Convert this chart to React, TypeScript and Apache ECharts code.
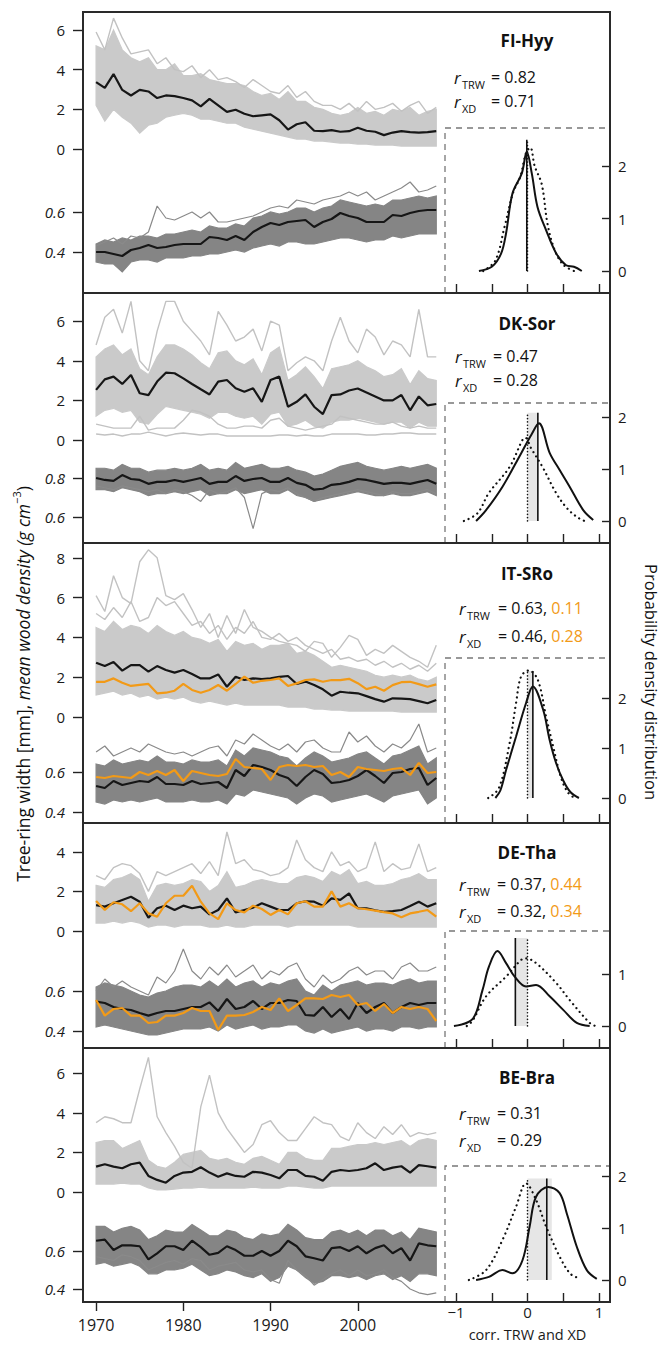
import React, { useEffect, useRef } from "react";
import * as echarts from "echarts";

// ---------------- data ----------------
const YEARS = [1970,1971,1972,1973,1974,1975,1976,1977,1978,1979,1980,1981,1982,1983,1984,1985,1986,1987,1988,1989,1990,1991,1992,1993,1994,1995,1996,1997,1998,1999,2000,2001,2002,2003,2004,2005,2006,2007,2008,2009];
const TRW_TICKS_6 = [0, 2, 4, 6];
const TRW_TICKS_8 = [0, 2, 4, 6, 8];
const TRW_TICKS_4 = [0, 2, 4];
const XD_TICKS_LOW = [0.4, 0.6];
const XD_TICKS_HIGH = [0.6, 0.8];
const YEAR_TICKS = [1970, 1980, 1990, 2000];
const CORR_TICKS = [-1, -0.5, 0, 0.5, 1];
const CORR_LABELS = [-1, 0, 1];
const PDF_TICKS = [0, 1, 2];
const PDF_TICKS_SHORT = [0, 1];

// FI-Hyy
const FI_TRW_MEAN = [3.37,3.08,3.78,2.98,2.7,2.98,2.9,2.57,2.7,2.67, 2.57,2.45,2.15,2.53,2.2,1.87,1.98,1.78,1.65,1.7, 1.75,1.45,0.98,1.25,1.35,0.92,0.9,0.95,0.87,0.9, 1.07,0.92,0.87,0.7,0.83,0.9,0.85,0.83,0.85,0.9];
const FI_TRW_LO = [2.2,1.4,2.0,1.6,1.3,0.8,1.2,1.3,1.6,1.7, 1.8,1.7,1.5,1.5,1.4,1.3,1.3,1.1,1.0,0.9, 0.8,0.7,0.6,0.5,0.5,0.4,0.4,0.35,0.3,0.3, 0.25,0.25,0.2,0.2,0.2,0.15,0.15,0.15,0.15,0.15];
const FI_TRW_HI = [5.2,5.0,6.0,5.0,4.6,4.4,4.6,4.0,4.0,4.3, 3.7,3.7,3.8,3.5,3.4,3.3,3.3,3.2,2.9,2.7, 2.8,2.5,2.9,2.4,2.4,2.1,2.0,1.8,1.7,1.8, 2.1,1.8,1.9,1.7,2.0,1.9,2.1,1.7,1.9,2.0];
const FI_TRW_OUT = [5.9,5.0,6.6,5.6,4.8,4.9,5.0,4.3,4.6,4.0, 3.9,4.2,3.6,4.0,3.5,3.6,3.4,3.1,3.5,3.2, 2.9,2.8,3.2,2.6,2.9,2.4,2.2,2.2,2.0,2.3, 1.9,2.4,2.0,2.1,2.3,1.9,2.2,2.4,1.8,2.1];
const FI_XD_MEAN = [0.40,0.40,0.39,0.38,0.41,0.42,0.435,0.42,0.425,0.435, 0.44,0.44,0.44,0.475,0.47,0.46,0.48,0.46,0.50,0.525, 0.545,0.535,0.55,0.555,0.56,0.525,0.55,0.565,0.595,0.58, 0.57,0.55,0.55,0.55,0.585,0.58,0.595,0.605,0.61,0.61];
const FI_XD_LO = [0.35,0.34,0.34,0.3,0.35,0.36,0.36,0.35,0.37,0.37, 0.37,0.38,0.38,0.39,0.39,0.4,0.41,0.4,0.42,0.43, 0.44,0.43,0.45,0.45,0.44,0.44,0.45,0.46,0.47,0.47, 0.46,0.45,0.46,0.46,0.48,0.47,0.48,0.49,0.49,0.49];
const FI_XD_HI = [0.44,0.46,0.45,0.47,0.46,0.48,0.48,0.47,0.49,0.49, 0.5,0.51,0.5,0.53,0.52,0.52,0.54,0.53,0.57,0.58, 0.6,0.59,0.6,0.62,0.62,0.6,0.62,0.63,0.66,0.65, 0.64,0.63,0.64,0.63,0.66,0.66,0.67,0.68,0.67,0.68];
const FI_XD_OUT = [0.43,0.45,0.47,0.44,0.48,0.47,0.5,0.63,0.57,0.56, 0.58,0.6,0.57,0.6,0.55,0.55,0.56,0.57,0.58,0.6, 0.62,0.63,0.62,0.66,0.65,0.64,0.66,0.67,0.68,0.7, 0.68,0.7,0.66,0.68,0.7,0.72,0.75,0.7,0.71,0.73];
const FI_PDF_SOLID = [[-0.68,0],[-0.5,0.08],[-0.37,0.33],[-0.3,0.72],[-0.21,1.48],[-0.08,1.86],[-0.01,2.27],[0.06,1.86],[0.14,1.22],[0.26,0.78],[0.4,0.34],[0.54,0.11],[0.65,0.08],[0.76,0]];
const FI_PDF_DOTTED = [[-0.62,0],[-0.45,0.2],[-0.32,0.85],[-0.2,1.5],[-0.1,1.8],[-0.02,2.25],[0.04,2.35],[0.1,2.0],[0.2,1.65],[0.28,0.9],[0.38,0.4],[0.5,0.12],[0.65,0]];

// DK-Sor
const DK_TRW_MEAN = [2.53,3.06,3.2,2.83,3.28,2.36,2.27,2.95,3.4,3.37, 3.11,2.83,2.56,2.3,2.95,3.03,2.61,2.44,2.61,1.93, 3.03,3.2,1.68,1.93,2.3,1.68,1.31,2.27,2.3,2.5, 2.6,2.4,2.2,2.0,2.0,2.27,1.5,2.2,1.75,1.82];
const DK_TRW_LO = [1.2,1.5,1.6,1.4,1.5,0.9,0.8,1.3,1.7,1.6, 1.5,1.4,1.3,1.1,1.4,1.4,1.2,1.1,1.2,0.8, 1.3,1.4,0.7,0.8,1.0,0.7,0.6,0.9,1.0,1.0, 1.1,1.0,0.9,0.8,0.9,0.9,0.6,0.9,0.7,0.7];
const DK_TRW_HI = [4.2,4.6,4.8,4.3,4.6,3.6,3.3,4.2,4.8,4.8, 4.6,4.3,3.9,3.6,4.4,4.5,4.0,3.8,4.1,3.3, 4.4,4.7,3.0,3.3,3.7,3.2,2.6,3.6,3.7,3.8, 4.0,3.7,3.5,3.2,3.3,3.6,2.8,3.5,3.1,3.0];
const DK_TRW_OUT_HIGH = [4.8,6.2,6.6,5.4,7.0,4.0,3.5,5.5,7.0,7.0, 6.0,5.5,5.0,4.3,6.5,5.8,5.0,5.2,5.6,4.5, 6.0,5.8,3.5,3.9,4.2,4.0,3.5,5.0,6.2,5.0, 4.4,5.6,5.2,4.3,5.0,4.8,4.2,6.6,4.2,4.2];
const DK_TRW_OUT_LOW = [0.3,0.25,0.3,0.2,0.3,0.3,0.4,0.3,0.2,0.3, 0.35,0.3,0.25,0.3,0.3,0.2,0.2,0.2,0.2,0.2, 0.2,0.25,0.25,0.2,0.25,0.2,0.2,0.3,0.3,0.3, 0.3,0.25,0.25,0.3,0.3,0.35,0.35,0.3,0.3,0.3];
const DK_TRW_OUT_MID = [0.8,0.7,0.6,0.6,0.6,1.2,0.5,0.6,0.6,0.6, 1.0,1.5,1.4,1.2,0.8,0.6,0.6,0.7,0.7,0.6, 1.0,1.1,0.7,0.6,0.5,0.6,0.7,0.8,1.2,1.1, 1.0,0.9,0.8,0.8,0.9,0.7,0.6,0.7,0.6,0.6];
const DK_XD_MEAN = [0.80,0.79,0.785,0.815,0.795,0.79,0.77,0.78,0.78,0.79, 0.78,0.79,0.80,0.77,0.78,0.78,0.81,0.785,0.795,0.80, 0.78,0.78,0.80,0.775,0.765,0.74,0.745,0.765,0.77,0.78, 0.795,0.79,0.78,0.77,0.775,0.775,0.77,0.78,0.79,0.77];
const DK_XD_LO = [0.74,0.74,0.73,0.75,0.74,0.73,0.71,0.72,0.72,0.73, 0.72,0.73,0.74,0.71,0.72,0.72,0.74,0.72,0.73,0.74, 0.72,0.72,0.74,0.71,0.7,0.68,0.69,0.7,0.71,0.72, 0.73,0.72,0.71,0.71,0.72,0.71,0.71,0.72,0.73,0.71];
const DK_XD_HI = [0.85,0.85,0.84,0.87,0.85,0.85,0.83,0.84,0.84,0.85, 0.84,0.85,0.87,0.84,0.85,0.84,0.88,0.85,0.86,0.87, 0.85,0.85,0.86,0.84,0.83,0.81,0.82,0.84,0.86,0.87, 0.88,0.86,0.85,0.84,0.85,0.86,0.85,0.86,0.87,0.85];
const DK_XD_OUT = [0.76,0.75,0.74,0.76,0.75,0.74,0.73,0.74,0.72,0.74, 0.73,0.71,0.68,0.74,0.72,0.73,0.75,0.7,0.54,0.72, 0.74,0.73,0.75,0.72,0.7,0.68,0.7,0.71,0.72,0.73, 0.74,0.73,0.72,0.71,0.73,0.72,0.72,0.73,0.74,0.72];
const DK_PDF_SOLID = [[-0.72,0],[-0.58,0.21],[-0.35,0.66],[-0.09,1.3],[0.05,1.65],[0.16,1.88],[0.31,1.31],[0.45,0.98],[0.59,0.66],[0.78,0.21],[0.92,0.02]];
const DK_PDF_DOTTED = [[-0.89,0],[-0.7,0.15],[-0.54,0.54],[-0.25,1.04],[-0.07,1.56],[-0.03,1.6],[0.05,1.4],[0.21,1.04],[0.4,0.54],[0.55,0.25],[0.69,0.08],[0.8,0]];

// IT-SRo
const IT_TRW_MEAN = [2.73,2.56,2.76,2.33,2.61,2.61,2.28,2.56,2.36,2.23, 2.36,2.16,1.94,1.94,2.14,1.52,2.02,1.86,1.94,1.91, 1.94,2.02,2.06,1.66,1.78,1.61,1.39,1.07,1.27,1.22, 1.19,1.05,0.9,0.77,0.94,0.92,0.9,0.8,0.69,0.85];
const IT_TRW_ORANGE = [1.77,1.77,1.94,1.72,1.56,1.61,1.66,1.19,1.22,1.32, 1.66,1.36,1.22,1.36,1.61,1.32,1.66,2.03,1.72,1.82, 1.86,1.94,1.56,1.69,1.86,1.89,1.77,1.86,1.85,1.92, 1.7,1.4,1.52,1.32,1.6,1.75,1.77,1.65,1.52,1.64];
const IT_TRW_LO = [1.1,1.2,1.3,1.1,1.2,1.0,1.1,0.9,1.0,0.9, 1.0,0.8,0.7,0.8,0.7,0.6,0.7,0.6,0.6,0.6, 0.6,0.6,0.5,0.5,0.5,0.4,0.4,0.35,0.35,0.3, 0.3,0.3,0.3,0.3,0.3,0.25,0.25,0.25,0.25,0.25];
const IT_TRW_HI = [4.5,4.3,4.8,4.4,4.6,4.5,4.2,4.6,4.3,4.1, 4.3,4.0,3.9,3.7,3.9,3.3,3.8,3.6,3.7,3.4, 3.6,3.6,3.7,3.2,3.3,3.1,2.8,2.5,2.6,2.5, 2.4,2.3,2.1,2.0,2.1,2.0,2.1,1.9,1.8,2.0];
const IT_TRW_OUT_HIGH = [6.1,5.3,7.1,6.0,5.7,7.8,8.4,8.0,6.1,5.9, 6.2,5.4,4.5,5.2,4.0,5.1,4.2,5.4,4.5,4.3, 4.0,3.8,3.7,3.6,3.3,3.8,3.7,3.0,3.5,4.1, 3.9,3.1,3.4,3.2,3.6,3.3,3.0,2.8,2.5,3.6];
const IT_TRW_OUT_MID = [5.2,4.9,5.5,5.0,5.8,4.8,5.0,6.0,5.6,5.8, 5.2,4.6,4.8,4.2,4.6,3.9,4.5,4.2,4.8,4.0, 3.9,4.2,3.8,4.0,3.6,3.4,3.2,3.4,2.9,3.0, 2.8,2.9,2.6,2.8,2.5,2.7,2.4,2.6,2.3,2.7];
const IT_XD_MEAN = [0.53,0.52,0.555,0.535,0.545,0.555,0.55,0.575,0.54,0.54, 0.535,0.555,0.54,0.545,0.55,0.52,0.61,0.58,0.635,0.625, 0.61,0.585,0.57,0.53,0.575,0.61,0.59,0.545,0.55,0.56, 0.58,0.61,0.58,0.545,0.595,0.6,0.615,0.62,0.535,0.57];
const IT_XD_ORANGE = [0.575,0.57,0.58,0.575,0.57,0.6,0.585,0.605,0.585,0.61, 0.555,0.605,0.595,0.585,0.58,0.59,0.665,0.625,0.62,0.615, 0.56,0.625,0.635,0.63,0.635,0.625,0.63,0.585,0.6,0.575, 0.625,0.615,0.61,0.605,0.615,0.62,0.585,0.645,0.595,0.6];
const IT_XD_LO = [0.45,0.44,0.46,0.45,0.46,0.45,0.46,0.47,0.45,0.45, 0.45,0.46,0.45,0.45,0.46,0.44,0.49,0.48,0.51,0.5, 0.49,0.48,0.47,0.44,0.47,0.49,0.48,0.45,0.46,0.47, 0.48,0.49,0.47,0.45,0.48,0.49,0.5,0.51,0.44,0.47];
const IT_XD_HI = [0.64,0.63,0.66,0.64,0.65,0.66,0.65,0.68,0.65,0.65, 0.64,0.66,0.65,0.65,0.66,0.63,0.71,0.68,0.72,0.71, 0.7,0.68,0.67,0.63,0.67,0.7,0.68,0.65,0.66,0.67, 0.69,0.7,0.67,0.64,0.68,0.69,0.71,0.73,0.64,0.67];
const IT_XD_OUT = [0.7,0.73,0.68,0.7,0.72,0.7,0.74,0.72,0.7,0.69, 0.7,0.68,0.7,0.72,0.73,0.68,0.76,0.74,0.79,0.76, 0.73,0.71,0.74,0.7,0.75,0.76,0.72,0.7,0.7,0.8, 0.75,0.78,0.73,0.7,0.74,0.72,0.76,0.84,0.7,0.72];
const IT_PDF_SOLID = [[-0.45,0],[-0.38,0.15],[-0.3,0.56],[-0.16,1.23],[-0.02,1.9],[0.075,2.23],[0.22,1.76],[0.31,1.16],[0.4,0.7],[0.5,0.35],[0.6,0.12],[0.72,0]];
const IT_PDF_DOTTED = [[-0.55,0],[-0.4,0.2],[-0.25,1.1],[-0.16,1.9],[-0.09,2.43],[0.02,2.55],[0.145,2.36],[0.26,1.63],[0.36,1.03],[0.46,0.45],[0.56,0.12],[0.66,0]];

// DE-Tha
const DE_TRW_MEAN = [1.31,1.23,1.4,1.57,1.73,1.48,0.67,1.15,1.28,1.06, 1.28,1.15,1.23,0.84,1.06,1.65,0.94,1.06,1.18,1.4, 1.23,1.06,1.06,1.4,1.5,1.48,1.28,1.65,1.57,1.9, 1.15,1.15,1.05,0.97,1.0,1.06,1.26,1.48,1.23,1.4];
const DE_TRW_ORANGE = [1.52,1.06,1.45,1.35,1.0,1.4,0.89,0.72,1.4,1.78, 1.78,2.29,1.48,0.89,0.6,1.4,1.06,0.94,1.28,1.11, 0.81,1.06,0.84,1.4,1.5,1.23,1.23,2.0,1.23,1.4, 1.15,1.1,1.03,0.95,0.89,0.69,0.89,0.97,1.06,0.72];
const DE_TRW_LO = [0.4,0.4,0.5,0.4,0.5,0.4,0.2,0.3,0.3,0.2, 0.3,0.3,0.3,0.2,0.2,0.3,0.2,0.2,0.3,0.3, 0.3,0.3,0.2,0.3,0.3,0.3,0.3,0.3,0.3,0.3, 0.2,0.2,0.2,0.2,0.2,0.2,0.2,0.2,0.2,0.2];
const DE_TRW_HI = [2.3,2.2,2.6,2.7,2.9,2.6,1.5,2.3,2.4,2.3, 2.4,2.6,2.5,2.0,2.3,3.0,2.2,2.3,2.5,2.6, 2.5,2.4,2.4,2.7,2.8,2.7,2.5,3.0,2.8,3.1, 2.4,2.5,2.3,2.3,2.4,2.6,2.7,2.9,2.6,2.6];
const DE_TRW_OUT = [2.8,2.6,3.2,3.4,3.3,2.9,2.0,3.0,2.8,3.0, 3.2,3.4,2.9,3.5,2.8,5.0,3.4,3.6,3.1,3.0, 2.8,2.9,3.2,4.6,3.6,3.2,3.0,4.0,3.3,3.5, 3.0,3.2,4.5,3.0,3.4,3.1,3.2,4.4,3.0,3.2];
const DE_XD_MEAN = [0.547,0.54,0.52,0.51,0.505,0.49,0.477,0.49,0.5,0.5, 0.51,0.52,0.52,0.543,0.5,0.56,0.51,0.52,0.55,0.51, 0.54,0.54,0.555,0.55,0.48,0.477,0.52,0.47,0.51,0.46, 0.54,0.49,0.52,0.54,0.49,0.52,0.54,0.53,0.54,0.54];
const DE_XD_ORANGE = [0.555,0.477,0.51,0.515,0.477,0.477,0.44,0.445,0.477,0.477, 0.49,0.515,0.5,0.5,0.405,0.477,0.477,0.48,0.495,0.52, 0.505,0.563,0.5,0.53,0.563,0.563,0.56,0.58,0.57,0.58, 0.53,0.54,0.5,0.535,0.49,0.52,0.51,0.52,0.51,0.45];
const DE_XD_LO = [0.42,0.43,0.42,0.41,0.4,0.39,0.38,0.38,0.39,0.4, 0.41,0.41,0.41,0.42,0.4,0.43,0.41,0.42,0.43,0.41, 0.42,0.42,0.43,0.43,0.4,0.39,0.41,0.39,0.4,0.41, 0.42,0.4,0.41,0.41,0.4,0.42,0.42,0.41,0.42,0.42];
const DE_XD_HI = [0.62,0.64,0.63,0.62,0.6,0.58,0.57,0.59,0.6,0.62, 0.63,0.63,0.62,0.65,0.62,0.66,0.62,0.64,0.65,0.62, 0.64,0.63,0.65,0.66,0.6,0.58,0.63,0.6,0.63,0.64, 0.65,0.63,0.64,0.64,0.63,0.65,0.66,0.64,0.65,0.65];
const DE_XD_OUT = [0.6,0.66,0.62,0.65,0.62,0.6,0.58,0.67,0.64,0.7, 0.81,0.7,0.66,0.72,0.68,0.73,0.67,0.7,0.73,0.66, 0.7,0.68,0.72,0.74,0.66,0.62,0.68,0.64,0.66,0.7, 0.72,0.68,0.7,0.7,0.66,0.72,0.74,0.7,0.7,0.72];
const DE_PDF_SOLID = [[-1.03,0],[-0.77,0.13],[-0.63,0.69],[-0.54,1.14],[-0.42,1.44],[-0.3,1.21],[-0.18,0.95],[-0.02,0.76],[0.12,0.79],[0.31,0.57],[0.5,0.31],[0.69,0.06],[0.87,0]];
const DE_PDF_DOTTED = [[-0.85,0],[-0.77,0.1],[-0.58,0.57],[-0.3,0.95],[-0.09,1.27],[-0.02,1.3],[0.12,1.21],[0.4,0.83],[0.59,0.5],[0.87,0.06],[0.95,0]];

// BE-Bra
const BE_TRW_MEAN = [1.28,1.4,1.28,1.2,1.4,1.48,0.81,0.61,0.47,0.81, 0.98,1.02,1.25,0.98,0.77,0.94,0.81,0.77,1.02,0.98, 0.86,0.69,1.11,1.11,0.81,0.77,0.57,1.02,1.11,1.06, 1.11,1.2,1.45,1.11,1.23,1.3,0.98,1.36,1.3,1.23];
const BE_TRW_LO = [0.4,0.4,0.4,0.45,0.4,0.4,0.2,0.1,0.1,0.15, 0.2,0.2,0.25,0.2,0.2,0.2,0.2,0.2,0.25,0.2, 0.2,0.2,0.3,0.3,0.25,0.2,0.2,0.3,0.3,0.3, 0.3,0.3,0.3,0.3,0.3,0.3,0.3,0.3,0.3,0.3];
const BE_TRW_HI = [2.5,2.6,2.6,2.2,2.4,2.6,1.6,1.3,1.2,1.5, 1.9,2.0,2.1,1.7,1.6,1.7,1.5,1.4,1.7,1.8, 1.6,1.4,2.0,2.0,1.7,1.6,1.6,2.2,2.2,2.3, 2.4,2.4,2.5,2.4,2.5,2.6,2.3,2.6,2.7,2.6];
const BE_TRW_OUT = [3.5,3.8,3.7,3.5,3.5,5.2,6.8,3.8,3.0,2.3, 1.5,1.2,4.3,5.9,4.0,3.2,2.6,2.0,2.4,3.4, 3.6,3.0,2.6,2.6,3.2,3.8,3.5,3.4,2.8,2.6, 3.5,3.0,2.7,3.3,2.9,3.4,2.8,3.0,2.9,3.0];
const BE_XD_MEAN = [0.654,0.66,0.605,0.63,0.63,0.625,0.556,0.588,0.625,0.625, 0.605,0.654,0.62,0.58,0.59,0.625,0.605,0.575,0.575,0.6, 0.575,0.6,0.654,0.625,0.572,0.562,0.55,0.615,0.62,0.6, 0.625,0.588,0.615,0.63,0.588,0.615,0.55,0.64,0.63,0.625];
const BE_XD_LO = [0.53,0.54,0.52,0.53,0.54,0.52,0.48,0.48,0.5,0.5, 0.51,0.53,0.5,0.47,0.48,0.5,0.49,0.47,0.46,0.48, 0.44,0.46,0.52,0.5,0.46,0.43,0.44,0.47,0.47,0.46, 0.47,0.45,0.47,0.48,0.45,0.47,0.44,0.48,0.48,0.47];
const BE_XD_HI = [0.73,0.73,0.7,0.72,0.73,0.71,0.66,0.68,0.71,0.7, 0.7,0.74,0.71,0.68,0.68,0.71,0.7,0.67,0.66,0.69, 0.68,0.69,0.74,0.71,0.67,0.66,0.66,0.7,0.71,0.69, 0.71,0.68,0.71,0.71,0.68,0.7,0.66,0.72,0.71,0.7];
const BE_XD_OUT = [0.57,0.56,0.55,0.58,0.57,0.55,0.5,0.52,0.54,0.55, 0.53,0.56,0.55,0.5,0.52,0.53,0.54,0.5,0.49,0.5, 0.45,0.43,0.55,0.5,0.47,0.42,0.45,0.48,0.5,0.47, 0.5,0.47,0.48,0.5,0.46,0.44,0.4,0.38,0.37,0.38];
const BE_PDF_SOLID = [[-0.72,0],[-0.54,0.06],[-0.35,0.19],[-0.21,0.13],[-0.07,0.38],[0.03,1.03],[0.12,1.6],[0.29,1.79],[0.45,1.67],[0.55,1.28],[0.69,0.64],[0.83,0.19],[0.97,0.02]];
const BE_PDF_DOTTED = [[-0.82,0],[-0.58,0.19],[-0.35,0.77],[-0.16,1.41],[-0.02,1.86],[0.12,1.54],[0.26,1.03],[0.45,0.45],[0.6,0.12],[0.73,0.03]];

// site names, correlation texts, inset summary (mean corr, shaded band, line height)
const SITE_NAMES = ["FI-Hyy", "DK-Sor", "IT-SRo", "DE-Tha", "BE-Bra"];
const R_TRW = ["0.82", "0.47", "0.63", "0.37", "0.31"];
const R_XD = ["0.71", "0.28", "0.46", "0.32", "0.29"];
const R_TRW_ORANGE = ["", "", "0.11", "0.44", ""];
const R_XD_ORANGE = ["", "", "0.28", "0.34", ""];
const CORR_MEAN = [-0.01, 0.145, 0.075, -0.17, 0.27];
const CORR_BAND = [null, [0, 0.145], [0, 0.075], [-0.17, 0], [0, 0.34]];
const CORR_LINE_TOP = [2.5, 2.08, 2.54, 1.69, 1.95];

// ---------------- layout / style ----------------
const W = 663, H = 1347;
const X_LEFT = 83, X_SPLIT = 445, X_RIGHT = 610;
const YEAR_MIN = 1968.5, YEAR_MAX = 2010;
const CORR_MIN = -1.155, CORR_MAX = 1.155;
const FONT = "'Open Sans', 'Noto Sans', 'DejaVu Sans', sans-serif";
const LIGHT = "#cacaca", LIGHT_LINE = "#c2c2c2";
const DARK = "#858585", DARK_LINE = "#8a8a8a";
const BLACK = "#161616", ORANGE = "#F29A17";

const LAYOUT = [
  { top: 12, bottom: 293, trw0: 149, trwS: 19.83, trwTicks: TRW_TICKS_6, xdRef: 0.6, xdRefY: 212, xdS: 200, xdTicks: XD_TICKS_LOW, pdf0: 271, pdfS: 52.5, pdfTop: 128, pdfTicks: PDF_TICKS, titleY: 40, r1: 77, r2: 101, rX: 454, eqX: 491 },
  { top: 293, bottom: 543, trw0: 440, trwS: 19.8, trwTicks: TRW_TICKS_6, xdRef: 0.8, xdRefY: 478, xdS: 195, xdTicks: XD_TICKS_HIGH, pdf0: 521, pdfS: 52, pdfTop: 403, pdfTicks: PDF_TICKS, titleY: 323, r1: 356, r2: 380, rX: 455, eqX: 493 },
  { top: 543, bottom: 823, trw0: 717, trwS: 19.9, trwTicks: TRW_TICKS_8, xdRef: 0.6, xdRefY: 772, xdS: 200, xdTicks: XD_TICKS_LOW, pdf0: 798, pdfS: 50, pdfTop: 658, pdfTicks: PDF_TICKS, titleY: 573, r1: 608, r2: 636, rX: 459, eqX: 498 },
  { top: 823, bottom: 1048, trw0: 931, trwS: 19.8, trwTicks: TRW_TICKS_4, xdRef: 0.6, xdRefY: 991, xdS: 200, xdTicks: XD_TICKS_LOW, pdf0: 1026, pdfS: 52, pdfTop: 931, pdfTicks: PDF_TICKS_SHORT, titleY: 852, r1: 884, r2: 911, rX: 459, eqX: 497 },
  { top: 1048, bottom: 1302, trw0: 1192, trwS: 19.8, trwTicks: TRW_TICKS_6, xdRef: 0.6, xdRefY: 1251, xdS: 190, xdTicks: XD_TICKS_LOW, pdf0: 1280, pdfS: 52, pdfTop: 1166, pdfTicks: PDF_TICKS, titleY: 1077, r1: 1113, r2: 1140, rX: 459, eqX: 497 },
];

const PANELS = [
  { trwMean: FI_TRW_MEAN, trwLo: FI_TRW_LO, trwHi: FI_TRW_HI, trwOut: [FI_TRW_OUT], xdMean: FI_XD_MEAN, xdLo: FI_XD_LO, xdHi: FI_XD_HI, xdOut: [FI_XD_OUT], trwOrange: null, xdOrange: null, pdfSolid: FI_PDF_SOLID, pdfDotted: FI_PDF_DOTTED },
  { trwMean: DK_TRW_MEAN, trwLo: DK_TRW_LO, trwHi: DK_TRW_HI, trwOut: [DK_TRW_OUT_HIGH, DK_TRW_OUT_LOW, DK_TRW_OUT_MID], xdMean: DK_XD_MEAN, xdLo: DK_XD_LO, xdHi: DK_XD_HI, xdOut: [DK_XD_OUT], trwOrange: null, xdOrange: null, pdfSolid: DK_PDF_SOLID, pdfDotted: DK_PDF_DOTTED },
  { trwMean: IT_TRW_MEAN, trwLo: IT_TRW_LO, trwHi: IT_TRW_HI, trwOut: [IT_TRW_OUT_HIGH, IT_TRW_OUT_MID], xdMean: IT_XD_MEAN, xdLo: IT_XD_LO, xdHi: IT_XD_HI, xdOut: [IT_XD_OUT], trwOrange: IT_TRW_ORANGE, xdOrange: IT_XD_ORANGE, pdfSolid: IT_PDF_SOLID, pdfDotted: IT_PDF_DOTTED },
  { trwMean: DE_TRW_MEAN, trwLo: DE_TRW_LO, trwHi: DE_TRW_HI, trwOut: [DE_TRW_OUT], xdMean: DE_XD_MEAN, xdLo: DE_XD_LO, xdHi: DE_XD_HI, xdOut: [DE_XD_OUT], trwOrange: DE_TRW_ORANGE, xdOrange: DE_XD_ORANGE, pdfSolid: DE_PDF_SOLID, pdfDotted: DE_PDF_DOTTED },
  { trwMean: BE_TRW_MEAN, trwLo: BE_TRW_LO, trwHi: BE_TRW_HI, trwOut: [BE_TRW_OUT], xdMean: BE_XD_MEAN, xdLo: BE_XD_LO, xdHi: BE_XD_HI, xdOut: [BE_XD_OUT], trwOrange: null, xdOrange: null, pdfSolid: BE_PDF_SOLID, pdfDotted: BE_PDF_DOTTED },
];

const pairs = (arr: number[]) => YEARS.map((y, i) => [y, arr[i]]);

function bandSeries(axis: number, lo: number[], hi: number[], color: string) {
  return {
    type: "custom",
    xAxisIndex: axis,
    yAxisIndex: axis,
    silent: true,
    clip: false,
    data: [[YEARS[0], lo[0]]],
    encode: { x: 0, y: 1 },
    renderItem: (params: any, api: any) => {
      const pts: number[][] = [];
      for (let i = 0; i < YEARS.length; i++) pts.push(api.coord([YEARS[i], hi[i]]));
      for (let i = YEARS.length - 1; i >= 0; i--) pts.push(api.coord([YEARS[i], lo[i]]));
      return { type: "polygon", shape: { points: pts }, style: { fill: color, stroke: color, lineWidth: 1.2 } };
    },
  };
}

function lineSeries(axis: number, data: any[], color: string, width: number, extra: any = {}) {
  return {
    type: "line",
    xAxisIndex: axis,
    yAxisIndex: axis,
    data,
    showSymbol: false,
    symbol: "none",
    silent: true,
    lineStyle: { color, width, ...(extra.lineStyle || {}) },
    ...extra.rest,
  };
}

const tickStyle = { color: "#222", width: 1.4 };
const labelBase = { color: "#1a1a1a", fontFamily: FONT, fontSize: 15 };
const noLine = { show: false, onZero: false };

function buildOption() {
  const grid: any[] = [], xAxis: any[] = [], yAxis: any[] = [], series: any[] = [], graphic: any[] = [];
  const last = PANELS.length - 1;

  PANELS.forEach((p, k) => {
    const L = LAYOUT[k];
    // TRW grid
    const gT = grid.length;
    const trwMin = -0.6;
    const trwMax = (L.trw0 - L.top) / L.trwS;
    grid.push({ left: X_LEFT, top: L.top, width: X_SPLIT - X_LEFT, height: (trwMax - trwMin) * L.trwS, outerBoundsMode: "none" });
    xAxis.push({ gridIndex: gT, type: "value", min: YEAR_MIN, max: YEAR_MAX, show: false, axisLine: noLine });
    yAxis.push({
      gridIndex: gT, type: "value", min: trwMin, max: trwMax, position: "left",
      axisLine: noLine, splitLine: { show: false },
      axisTick: { show: true, inside: false, length: 10, lineStyle: tickStyle, customValues: L.trwTicks },
      axisLabel: { ...labelBase, margin: 18, customValues: L.trwTicks, formatter: (v: number) => String(Math.round(v)) },
    });

    // XD grid
    const gX = grid.length;
    const xdMin = L.xdRef - (L.bottom - L.xdRefY) / L.xdS;
    const xdMax = L.xdRef + (L.xdRefY - L.trw0) / L.xdS;
    grid.push({ left: X_LEFT, top: L.trw0, width: X_SPLIT - X_LEFT, height: L.bottom - L.trw0, outerBoundsMode: "none" });
    xAxis.push({
      gridIndex: gX, type: "value", min: YEAR_MIN, max: YEAR_MAX, show: k === last, position: "bottom",
      axisLine: noLine, splitLine: { show: false },
      axisTick: { show: true, inside: false, length: 9, lineStyle: tickStyle, customValues: YEAR_TICKS },
      axisLabel: { ...labelBase, fontSize: 16, margin: 15, customValues: YEAR_TICKS, formatter: (v: number) => String(v) },
    });
    yAxis.push({
      gridIndex: gX, type: "value", min: xdMin, max: xdMax, position: "left",
      axisLine: noLine, splitLine: { show: false },
      axisTick: { show: true, inside: false, length: 10, lineStyle: tickStyle, customValues: L.xdTicks },
      axisLabel: { ...labelBase, fontStyle: "italic", margin: 18, customValues: L.xdTicks, formatter: (v: number) => v.toFixed(1) },
    });

    // inset grid
    const gI = grid.length;
    grid.push({ left: X_SPLIT, top: L.pdfTop, width: X_RIGHT - X_SPLIT, height: L.bottom - L.pdfTop, outerBoundsMode: "none" });
    xAxis.push({
      gridIndex: gI, type: "value", min: CORR_MIN, max: CORR_MAX, position: "bottom",
      axisLine: noLine, splitLine: { show: false },
      axisTick: { show: true, inside: true, length: 9, lineStyle: tickStyle, customValues: CORR_TICKS },
      axisLabel: { ...labelBase, fontSize: 15, show: k === last, margin: 2, lineHeight: 16, customValues: CORR_LABELS, formatter: (v: number) => (v < 0 ? "\u22121" : String(v)) },
      name: k === last ? "corr. TRW and XD" : "",
      nameLocation: "middle", nameGap: 24,
      nameTextStyle: { ...labelBase, fontSize: 14.5, lineHeight: 16 },
    });
    yAxis.push({
      gridIndex: gI, type: "value", position: "right",
      min: -(L.bottom - L.pdf0) / L.pdfS, max: (L.pdf0 - L.pdfTop) / L.pdfS,
      axisLine: noLine, splitLine: { show: false },
      axisTick: { show: true, inside: true, length: 8, lineStyle: tickStyle, customValues: L.pdfTicks },
      axisLabel: { ...labelBase, margin: 8, customValues: L.pdfTicks, formatter: (v: number) => String(Math.round(v)) },
    });

    // --- series: time series
    series.push(bandSeries(gX, p.xdLo, p.xdHi, DARK));
    p.xdOut.forEach((arr) => series.push(lineSeries(gX, pairs(arr), DARK_LINE, 1.2)));
    series.push(bandSeries(gT, p.trwLo, p.trwHi, LIGHT));
    p.trwOut.forEach((arr) => series.push(lineSeries(gT, pairs(arr), LIGHT_LINE, 1.4)));
    series.push(lineSeries(gX, pairs(p.xdMean), BLACK, 2.2));
    series.push(lineSeries(gT, pairs(p.trwMean), BLACK, 2.2));
    if (p.xdOrange) series.push(lineSeries(gX, pairs(p.xdOrange), ORANGE, 2.2));
    if (p.trwOrange) series.push(lineSeries(gT, pairs(p.trwOrange), ORANGE, 2.2));

    // --- series: inset
    const band = CORR_BAND[k] as number[] | null;
    series.push(lineSeries(gI, [[0, 0], [0, CORR_LINE_TOP[k]]], "#111", 1.6, {
      lineStyle: { type: [0.1, 3.2], cap: "round" },
      rest: band ? { markArea: { silent: true, itemStyle: { color: "#e6e6e6" }, data: [[{ coord: [band[0], 0] }, { coord: [band[1], CORR_LINE_TOP[k]] }]] } } : {},
    }));
    series.push(lineSeries(gI, [[CORR_MEAN[k], 0], [CORR_MEAN[k], CORR_LINE_TOP[k]]], "#111", 1.6));
    series.push(lineSeries(gI, p.pdfDotted, "#111", 2.2, { lineStyle: { type: [0.1, 5], cap: "round" }, rest: { smooth: 0.35 } }));
    series.push(lineSeries(gI, p.pdfSolid, "#111", 2, { rest: { smooth: 0.35 } }));

    // --- graphics: frame, dashed box, texts
    graphic.push({ type: "rect", z: 100, silent: true, shape: { x: X_LEFT, y: L.top, width: X_RIGHT - X_LEFT, height: L.bottom - L.top }, style: { fill: "none", stroke: "#2a2a2a", lineWidth: 2 } });
    graphic.push({ type: "polyline", z: 99, silent: true, shape: { points: [[X_SPLIT, L.bottom], [X_SPLIT, L.pdfTop], [X_RIGHT, L.pdfTop]] }, style: { fill: "none", stroke: "#777", lineWidth: 1.3, lineDash: [6, 5] } });
    graphic.push({ type: "text", z: 101, silent: true, x: 527, y: L.titleY, style: { text: SITE_NAMES[k], fontFamily: FONT, fontWeight: "bold", fontSize: 17, fill: "#111", align: "center", verticalAlign: "middle" } });
    const rLines = [
      { y: L.r1, sub: "TRW", val: R_TRW[k], org: R_TRW_ORANGE[k] },
      { y: L.r2, sub: "XD", val: R_XD[k], org: R_XD_ORANGE[k] },
    ];
    rLines.forEach((r) => {
      graphic.push({ type: "text", z: 101, silent: true, x: L.rX, y: r.y, style: { text: "r", fontFamily: FONT, fontStyle: "italic", fontSize: 17, fill: "#111", align: "left", verticalAlign: "middle" } });
      graphic.push({ type: "text", z: 101, silent: true, x: L.rX + 8, y: r.y + 7, style: { text: r.sub, fontFamily: FONT, fontSize: 11, fill: "#111", align: "left", verticalAlign: "middle" } });
      graphic.push({
        type: "text", z: 101, silent: true, x: L.eqX, y: r.y,
        style: {
          text: r.org ? `= ${r.val}, {o|${r.org}}` : `= ${r.val}`,
          rich: { o: { fill: ORANGE, fontFamily: FONT, fontSize: 16 } },
          fontFamily: FONT, fontSize: 16, fill: "#111", align: "left", verticalAlign: "middle",
        },
      });
    });
  });

  // axis titles
  graphic.push({
    type: "text", z: 101, silent: true, x: 23, y: 684, rotation: Math.PI / 2,
    style: {
      text: "{n|Tree-ring width [mm], }{i|mean wood density (g cm}{p|\u22123}{n|)}",
      rich: {
        n: { fontFamily: FONT, fontSize: 17.5, fill: "#111", lineHeight: 24 },
        i: { fontFamily: FONT, fontSize: 17.5, fontStyle: "italic", fill: "#111", lineHeight: 24 },
        p: { fontFamily: FONT, fontSize: 11, fill: "#111", lineHeight: 24, verticalAlign: "top" },
      },
      align: "center", verticalAlign: "middle",
    },
  });
  graphic.push({
    type: "text", z: 101, silent: true, x: 651, y: 682, rotation: -Math.PI / 2,
    style: { text: "Probability density distribution", fontFamily: FONT, fontSize: 16.5, fill: "#111", align: "center", verticalAlign: "middle" },
  });

  return { animation: false, backgroundColor: "#ffffff", grid, xAxis, yAxis, series, graphic };
}

export default function App() {
  const ref = useRef<HTMLDivElement>(null);
  useEffect(() => {
    if (!ref.current) return;
    const chart = echarts.init(ref.current, undefined, { renderer: "svg" });
    chart.setOption(buildOption() as any);
    return () => chart.dispose();
  }, []);
  return <div ref={ref} style={{ position: "absolute", left: 0, top: 0, width: W, height: H, background: "#fff" }} />;
}
